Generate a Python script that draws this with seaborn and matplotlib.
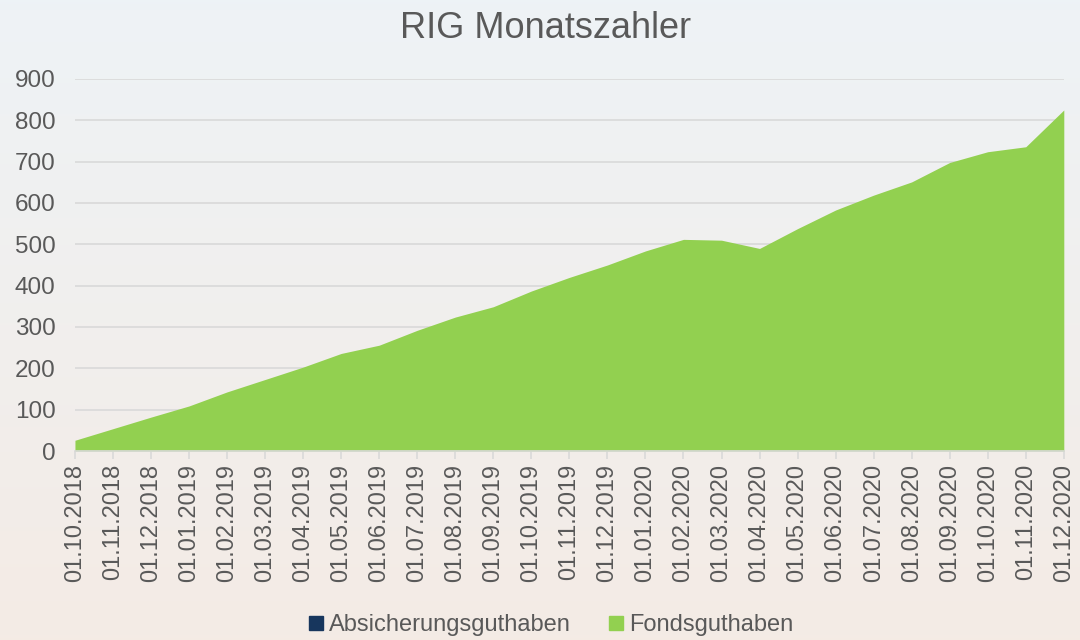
import numpy as np
import pandas as pd
import matplotlib
matplotlib.use("Agg")
import matplotlib.pyplot as plt
from matplotlib.lines import Line2D
import seaborn as sns

# Daten
datum = ["01.10.2018", "01.11.2018", "01.12.2018", "01.01.2019", "01.02.2019",
         "01.03.2019", "01.04.2019", "01.05.2019", "01.06.2019", "01.07.2019",
         "01.08.2019", "01.09.2019", "01.10.2019", "01.11.2019", "01.12.2019",
         "01.01.2020", "01.02.2020", "01.03.2020", "01.04.2020", "01.05.2020",
         "01.06.2020", "01.07.2020", "01.08.2020", "01.09.2020", "01.10.2020",
         "01.11.2020", "01.12.2020"]
fondsguthaben = [26, 54, 82, 109, 143, 173, 203, 236, 256, 292, 324, 349, 387,
                 420, 450, 484, 512, 510, 490, 538, 583, 619, 651, 698, 724, 736, 825]
absicherungsguthaben = [0] * len(datum)

df = pd.DataFrame({"Datum": datum, "Fonds": fondsguthaben,
                   "Absicherung": absicherungsguthaben})
df["pos"] = np.arange(len(df))

sns.set_theme(style="white")
plt.rcParams['font.family'] = ['Liberation Sans', 'DejaVu Sans']

grau = "#595959"
gruen = "#92D050"
navy = "#17365D"

fig = plt.figure(figsize=(10.8, 6.4), dpi=100)

# Hintergrund-Verlauf
bg = fig.add_axes([0, 0, 1, 1], zorder=-10)
top = np.array([0.933, 0.953, 0.965])
bottom = np.array([0.957, 0.922, 0.898])
t = np.linspace(0, 1, 256)[:, None]
grad = (top[None, :] * (1 - t) + bottom[None, :] * t)[:, None, :]
bg.imshow(grad, aspect="auto", extent=[0, 1, 0, 1])
bg.axis("off")

ax = fig.add_axes([0.0694, 0.2953, 0.9156, 0.5813])
ax.patch.set_alpha(0)

sns.lineplot(data=df, x="pos", y="Fonds", ax=ax, color=gruen, linewidth=0)
ax.fill_between(df["pos"], df["Absicherung"], df["Fonds"], color=gruen, linewidth=0, zorder=2)

ax.set_xlim(0, len(df) - 1)
ax.set_ylim(0, 900)
ax.set_yticks(range(0, 901, 100))
ax.yaxis.grid(True, color="#D9D9D9", linewidth=1.2)
ax.set_axisbelow(True)
ax.set_xticks(df["pos"])
ax.set_xticklabels(df["Datum"], rotation=90)
ax.tick_params(axis="x", colors="#D9D9D9", labelcolor=grau, labelsize=17,
               length=6, width=1.2, direction="out", bottom=True, pad=3)
ax.tick_params(axis="y", labelcolor=grau, labelsize=17.5, length=0, pad=14)
for s in ["top", "right", "left"]:
    ax.spines[s].set_visible(False)
ax.spines["bottom"].set_color("#D9D9D9")
ax.spines["bottom"].set_linewidth(1.2)
ax.set_xlabel("")
ax.set_ylabel("")

fig.text(0.505, 0.955, "RIG Monatszahler", ha="center", va="center",
         fontsize=26, color=grau)

handles = [Line2D([], [], marker="s", linestyle="none", markersize=10,
                  markerfacecolor=navy, markeredgecolor=navy),
           Line2D([], [], marker="s", linestyle="none", markersize=10,
                  markerfacecolor=gruen, markeredgecolor=gruen)]
fig.legend(handles, ["Absicherungsguthaben", "Fondsguthaben"],
           loc="center", bbox_to_anchor=(0.509, 0.023), ncol=2, frameon=False,
           fontsize=17, labelcolor=grau, handletextpad=0.15, columnspacing=1.5,
           handlelength=0.8)

fig.savefig("out.png", dpi=100)
